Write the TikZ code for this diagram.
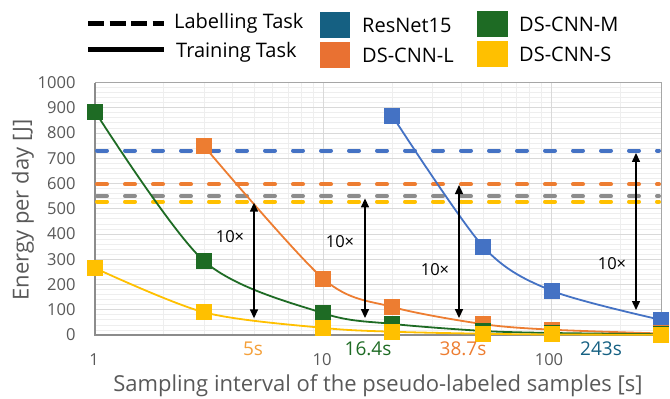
\documentclass[tikz,border=0pt]{standalone}
\usepackage{fontspec}
\setmainfont{Open Sans}
\usepackage{tikz}
\usepackage{xcolor}
\usetikzlibrary{arrows.meta}

\definecolor{cblue}{HTML}{4472C4}
\definecolor{corange}{HTML}{ED7D31}
\definecolor{cgreen}{HTML}{1E6B24}
\definecolor{cyellow}{HTML}{FFC000}
\definecolor{cgray}{HTML}{8C8C8C}
\definecolor{lblue}{HTML}{156082}
\definecolor{lorange}{HTML}{E97132}
\definecolor{lfive}{HTML}{F4A03A}
\definecolor{ltext}{HTML}{595959}
\definecolor{gmin}{HTML}{EEEEEE}
\definecolor{gmaj}{HTML}{D9D9D9}
\definecolor{gframe}{HTML}{A6A6A6}

\begin{document}
\begin{tikzpicture}[x=1pt, y=-1pt,
    declare function={px(\t)=95+228.5*log10(\t); py(\e)=335-0.2525*\e;}]
	\tikzstyle{labline}=[line width=4pt, line cap=round, dash pattern=on 10pt off 18pt]
	\tikzstyle{trainline}=[line width=1.8pt]
	\tikzstyle{gap}=[line width=1.4pt, {Triangle[length=9pt,width=8pt]}-{Triangle[length=9pt,width=8pt]}]
	\tikzstyle{tick}=[font=\fontsize{16.5}{18}\selectfont, text=ltext]
	\tikzstyle{legtext}=[font=\fontsize{20}{22}\selectfont, anchor=west, inner sep=0pt]
	\tikzstyle{times}=[font=\fontsize{16.5}{18}\selectfont]
	\tikzstyle{period}=[font=\fontsize{19}{22}\selectfont]
	\tikzstyle{title}=[font=\fontsize{22}{24}\selectfont, text=ltext]

	\useasboundingbox (0,0) rectangle (670,399);

	% grid
	\foreach \e in {20,40,...,980}
		\draw[gmin, line width=0.8pt] (95,{py(\e)}) -- (661,{py(\e)});
	\foreach \t in {2,...,9}
		\draw[gmin, line width=0.8pt] ({px(\t)},82.5) -- ({px(\t)},335);
	\foreach \t in {20,30,...,90}
		\draw[gmin, line width=0.8pt] ({px(\t)},82.5) -- ({px(\t)},335);
	\draw[gmin, line width=0.8pt] ({px(200)},82.5) -- ({px(200)},335);
	\foreach \e in {100,200,...,900}
		\draw[gmaj, line width=1pt] (95,{py(\e)}) -- (661,{py(\e)});
	\foreach \t in {10,100}
		\draw[gmaj, line width=1pt] ({px(\t)},82.5) -- ({px(\t)},335);
	\draw[gframe, line width=1pt] (95,82.5) rectangle (661,335);
	\draw[cgray, line width=1.5pt] (95,82.5) -- (95,335) -- (661,335);

	% axis labels
	\foreach \e in {0,100,...,1000}
		\draw node[tick, anchor=east] at (79,{py(\e)}) (y\e) {\e};
	\draw node[tick] at (94,360) (x1) {1};
	\draw node[tick] at (322,360) (x10) {10};
	\draw node[tick] at (549,360) (x100) {100};
	\draw node[title] at (378,386) (xtitle) {Sampling interval of the pseudo-labeled samples [s]};
	\draw node[title, rotate=90] at (23,210) (ytitle) {Energy per day [J]};

	% labelling task
	\draw[labline, cblue] (97,{py(730)}) -- (659,{py(730)});
	\draw[labline, corange] (97,{py(597)}) -- (659,{py(597)});
	\draw[labline, cgray] (97,{py(550)}) -- (659,{py(550)});
	\draw[labline, cyellow] (97,{py(528)}) -- (659,{py(528)});

	% training task
	\draw[trainline, cblue] plot[smooth] coordinates {({px(20)},{py(868)}) ({px(50)},{py(350)}) ({px(100)},{py(175)}) ({px(300)},{py(60)})};
	\foreach \t/\e in {20/868,50/350,100/175,300/60}
		\fill[cblue] ({px(\t)-8},{py(\e)-8}) rectangle ++(16,16);

	\draw[trainline, corange] plot[smooth] coordinates {({px(3)},{py(748)}) ({px(10)},{py(222)}) ({px(20)},{py(111)}) ({px(50)},{py(43)}) ({px(100)},{py(21)}) ({px(300)},{py(6)})};
	\foreach \t/\e in {3/748,10/222,20/111,50/43,100/21,300/6}
		\fill[corange] ({px(\t)-8},{py(\e)-8}) rectangle ++(16,16);

	\draw[trainline, cgreen] plot[smooth] coordinates {({px(1)},{py(885)}) ({px(3)},{py(293)}) ({px(10)},{py(86)}) ({px(20)},{py(44)}) ({px(50)},{py(16)}) ({px(100)},{py(8)}) ({px(300)},{py(3)})};
	\foreach \t/\e in {1/885,3/293,10/86,20/44,50/16,100/8,300/3}
		\fill[cgreen] ({px(\t)-8},{py(\e)-8}) rectangle ++(16,16);

	\draw[trainline, cyellow] plot[smooth] coordinates {({px(1)},{py(265)}) ({px(3)},{py(90)}) ({px(10)},{py(28)}) ({px(20)},{py(13)}) ({px(50)},{py(5)}) ({px(100)},{py(2)}) ({px(300)},{py(1)})};
	\foreach \t/\e in {1/265,3/90,10/28,20/13,50/5,100/2,300/1}
		\fill[cyellow] ({px(\t)-8},{py(\e)-8}) rectangle ++(16,16);

	% gaps
	\coordinate (g1t) at (254,{py(524)});
	\coordinate (g1b) at (254,{py(66)});
	\coordinate (g2t) at (365,{py(541)});
	\coordinate (g2b) at (365,{py(67)});
	\coordinate (g3t) at (459,{py(594)});
	\coordinate (g3b) at (459,{py(67)});
	\coordinate (g4t) at (636,{py(721)});
	\coordinate (g4b) at (636,{py(99)});
	\draw[gap] (g1t) -- (g1b);
	\draw[gap] (g2t) -- (g2b);
	\draw[gap] (g3t) -- (g3b);
	\draw[gap] (g4t) -- (g4b);
	\draw node[times] at (230,237) (f1) {10×};
	\draw node[times] at (340,242) (f2) {10×};
	\draw node[times] at (435,270) (f3) {10×};
	\draw node[times] at (612,264) (f4) {10×};

	\draw node[period, text=lfive] at (253,349) (p5) {5s};
	\draw node[period, text=cgreen] at (368,349) (p16) {16.4s};
	\draw node[period, text=corange] at (463,349) (p38) {38.7s};
	\draw node[period, text=lblue] at (601,349) (p243) {243s};

	% legend
	\draw[line width=5pt, dash pattern=on 16pt off 5.5pt] (88,23) -- (164,23);
	\draw[line width=5pt] (88,49) -- (164,49);
	\draw node[legtext] at (174,23) (lab) {Labelling Task};
	\draw node[legtext] at (176,52) (train) {Training Task};
	\fill[lblue] (320,12) rectangle (350,38);
	\fill[lorange] (320,42) rectangle (350,68);
	\fill[cgreen] (477,11) rectangle (508,37);
	\fill[cyellow] (477,41) rectangle (508,67);
	\draw node[legtext] at (362,25) (res) {ResNet15};
	\draw node[legtext] at (362,55) (dsl) {DS-CNN-L};
	\draw node[legtext] at (519,24) (dsm) {DS-CNN-M};
	\draw node[legtext] at (519,54) (dss) {DS-CNN-S};
\end{tikzpicture}
\end{document}
